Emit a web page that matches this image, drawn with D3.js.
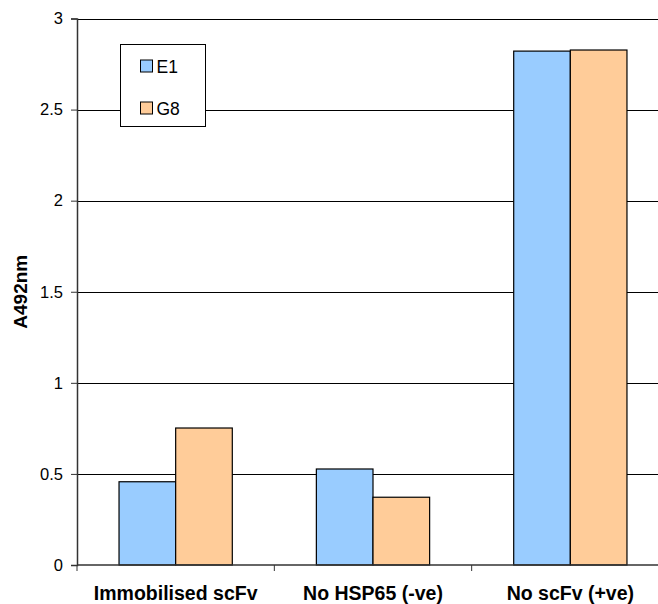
<!DOCTYPE html>
<html>
<head>
<meta charset="utf-8">
<script src="https://cdn.jsdelivr.net/npm/d3@7"></script>
<style>
  html, body { margin: 0; padding: 0; background: #fff; }
  svg { display: block; font-family: "Liberation Sans", Arial, sans-serif; }
</style>
</head>
<body>
<svg id="chart" width="658" height="604"></svg>
<script>
// Absorbance readings per condition
const categories = ["Immobilised scFv", "No HSP65 (-ve)", "No scFv (+ve)"];
const seriesNames = ["E1", "G8"];
const e1Values = [0.457, 0.527, 2.821];
const g8Values = [0.752, 0.372, 2.827];
const yTicks = [0, 0.5, 1, 1.5, 2, 2.5, 3];
const yTickLabels = ["0", "0.5", "1", "1.5", "2", "2.5", "3"];
const colors = { E1: "#99ccff", G8: "#ffcc99" };

const svg = d3.select("#chart");
const margin = { left: 77, top: 18.5, bottom: 565, right: 669 };

const x = d3.scaleBand().domain(categories).range([margin.left, margin.right])
  .paddingInner(0.426).paddingOuter(0.213);
const x1 = d3.scaleBand().domain(seriesNames).range([0, x.bandwidth()]);
const y = d3.scaleLinear().domain([0, 3]).range([margin.bottom, margin.top]);

// Horizontal gridlines
svg.append("g").selectAll("line").data(yTicks.filter(d => d > 0)).join("line")
  .attr("x1", margin.left).attr("x2", margin.right)
  .attr("y1", d => Math.round(y(d)) + 0.5).attr("y2", d => Math.round(y(d)) + 0.5)
  .attr("stroke", "#000").attr("stroke-width", 1);

// Bars
const rows = categories.map((c, i) => ({ cat: c, values: [
  { key: "E1", v: e1Values[i] }, { key: "G8", v: g8Values[i] }] }));
const groups = svg.append("g").selectAll("g").data(rows).join("g")
  .attr("transform", d => `translate(${x(d.cat)},0)`);
groups.selectAll("rect").data(d => d.values).join("rect")
  .attr("x", d => x1(d.key))
  .attr("y", d => y(d.v))
  .attr("width", x1.bandwidth())
  .attr("height", d => y(0) - y(d.v))
  .attr("fill", d => colors[d.key])
  .attr("stroke", "#000").attr("stroke-width", 1.2);

// Y axis
const yAxis = d3.axisLeft(y).tickValues(yTicks)
  .tickFormat((d, i) => yTickLabels[i]).tickSize(6).tickPadding(8);
const gy = svg.append("g").attr("transform", `translate(${margin.left},0)`).call(yAxis);
gy.select(".domain").attr("stroke", "#333").attr("stroke-width", 1.5);
gy.selectAll(".tick line").attr("stroke", "#333");
gy.selectAll("text").attr("font-size", 16.5).attr("fill", "#000")
  .attr("font-family", "'Liberation Sans', Arial, sans-serif");

// X axis with ticks on category boundaries
const gx = svg.append("g").attr("transform", `translate(0,${margin.bottom})`);
gx.append("line").attr("x1", margin.left).attr("x2", margin.right)
  .attr("stroke", "#333").attr("stroke-width", 1.5);
const step = x.step();
const boundaries = categories.map((c, i) => margin.left + step * i).concat([margin.right]);
gx.selectAll("line.tk").data(boundaries).join("line").attr("class", "tk")
  .attr("x1", d => d).attr("x2", d => d).attr("y1", 0).attr("y2", 6)
  .attr("stroke", "#333");
gx.selectAll("text").data(categories).join("text")
  .attr("x", d => x(d) + x.bandwidth() / 2).attr("y", 35)
  .attr("text-anchor", "middle").attr("font-size", 19.5).attr("font-weight", "bold")
  .text(d => d);

// Y axis title
svg.append("text")
  .attr("transform", `translate(27,${(margin.top + margin.bottom) / 2}) rotate(-90)`)
  .attr("text-anchor", "middle").attr("font-size", 19).attr("font-weight", "bold")
  .text("A492nm");

// Legend
const legend = svg.append("g").attr("transform", "translate(120.5,44.5)");
legend.append("rect").attr("width", 85).attr("height", 82)
  .attr("fill", "#fff").attr("stroke", "#000").attr("stroke-width", 1);
seriesNames.forEach((s, i) => {
  legend.append("rect").attr("x", 20).attr("y", 15.5 + i * 42).attr("width", 12).attr("height", 12)
    .attr("fill", colors[s]).attr("stroke", "#000").attr("stroke-width", 1);
  legend.append("text").attr("x", 36).attr("y", 28 + i * 42)
    .attr("font-size", 17.5).text(s);
});
</script>
</body>
</html>
